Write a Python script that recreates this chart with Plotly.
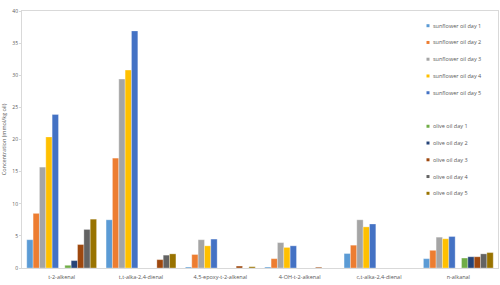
import plotly.graph_objects as go

categories = ["t-2-alkenal", "t,t-alka-2,4-dienal", "4,5-epoxy-t-2-alkenal",
              "4-OH-t-2-alkenal", "c,t-alka-2,4-dienal", "n-alkanal"]

sunflower_day1 = [4.4, 7.5, 0.15, 0.15, 2.25, 1.45]
sunflower_day2 = [8.5, 17.1, 2.1, 1.45, 3.55, 2.75]
sunflower_day3 = [15.7, 29.4, 4.4, 3.95, 7.5, 4.8]
sunflower_day4 = [20.4, 30.8, 3.45, 3.2, 6.4, 4.55]
sunflower_day5 = [23.9, 36.9, 4.5, 3.45, 6.85, 4.9]
olive_day1 = [0.42, 0, 0, 0, 0, 1.55]
olive_day2 = [1.15, 0, 0, 0, 0, 1.75]
olive_day3 = [3.65, 1.3, 0.3, 0.12, 0, 1.75]
olive_day4 = [6.0, 2.0, 0, 0, 0, 2.2]
olive_day5 = [7.6, 2.2, 0.2, 0, 0, 2.4]

series_names = ["sunflower oil day 1", "sunflower oil day 2", "sunflower oil day 3",
                "sunflower oil day 4", "sunflower oil day 5", "",
                "olive oil day 1", "olive oil day 2", "olive oil day 3",
                "olive oil day 4", "olive oil day 5"]
series_values = [sunflower_day1, sunflower_day2, sunflower_day3, sunflower_day4,
                 sunflower_day5, [None] * 6, olive_day1, olive_day2, olive_day3,
                 olive_day4, olive_day5]
colors = ["#5B9BD5", "#ED7D31", "#A5A5A5", "#FFC000", "#4472C4", "rgba(0,0,0,0)",
          "#70AD47", "#264478", "#9E480E", "#636363", "#997300"]

W, H = 500, 285
ML, MR, MT, MB = 22, 2, 11, 17
PW, PH = W - ML - MR, H - MT - MB

fig = go.Figure()
for name, vals, col in zip(series_names, series_values, colors):
    fig.add_trace(go.Bar(x=categories, y=vals, name=name, marker_color=col,
                         marker_line=dict(color="rgba(255,255,255,0.6)", width=0.5),
                         showlegend=False))

# legend drawn as layout items (small squares + labels)
shapes, annotations = [], []
for i, (name, col) in enumerate(zip(series_names, colors)):
    if not name:
        continue
    py = 25.7 + i * 16.76
    yp = (H - MB - py) / PH
    x0 = (426.5 - ML) / PW
    x1 = (429.5 - ML) / PW
    shapes.append(dict(type="rect", xref="paper", yref="paper", x0=x0, x1=x1,
                       y0=yp - 1.5 / PH, y1=yp + 1.5 / PH, fillcolor=col,
                       line=dict(width=0)))
    annotations.append(dict(xref="paper", yref="paper", x=(431 - ML) / PW, y=yp,
                            xanchor="left", yanchor="middle", text=name,
                            showarrow=False, font=dict(size=5.5, color="#595959")))

fig.update_layout(
    width=W, height=H,
    margin=dict(l=ML, r=MR, t=MT, b=MB),
    paper_bgcolor="white", plot_bgcolor="white",
    barmode="group", bargap=0.12, bargroupgap=0,
    font=dict(family="Open Sans", size=5, color="#595959"),
    showlegend=False,
    shapes=shapes, annotations=annotations,
    xaxis=dict(showgrid=False, showline=True, linecolor="#D9D9D9", linewidth=1,
               mirror=True, ticks="outside", ticklen=3, tickcolor="rgba(0,0,0,0)",
               tickfont=dict(size=5.5)),
    yaxis=dict(range=[0, 40], dtick=5, showgrid=False, showline=True,
               linecolor="#D9D9D9", linewidth=1, mirror=True, ticks="outside",
               ticklen=2, tickcolor="#D9D9D9", tickfont=dict(size=5),
               title=dict(text="Concentration (mmol/kg oil)", font=dict(size=5.5),
                          standoff=5)),
)
fig.write_html("out.html")
